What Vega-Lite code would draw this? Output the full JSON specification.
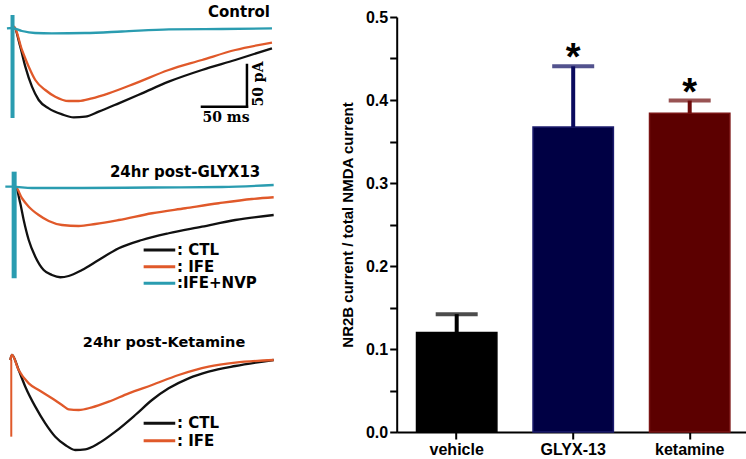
{
  "$schema": "https://vega.github.io/schema/vega-lite/v6.json",
  "padding": 0,
  "background": "white",
  "config": {"view": {"stroke": null}},
  "resolve": {"scale": {"color": "independent", "fill": "independent", "stroke": "independent"}},
  "datasets": {
    "traces": [
      {"p":1,"s":"CTL","t":0,"I":0},{"p":1,"s":"CTL","t":1.9,"I":2.8},{"p":1,"s":"CTL","t":9.2,"I":-21.2},{"p":1,"s":"CTL","t":14.8,"I":-45.2},{"p":1,"s":"CTL","t":22.2,"I":-69.2},{"p":1,"s":"CTL","t":29.7,"I":-85.2},{"p":1,"s":"CTL","t":40.8,"I":-95.2},{"p":1,"s":"CTL","t":55.6,"I":-102.4},{"p":1,"s":"CTL","t":68.6,"I":-106.0},{"p":1,"s":"CTL","t":81.4,"I":-105.2},{"p":1,"s":"CTL","t":96.3,"I":-99.2},{"p":1,"s":"CTL","t":118.6,"I":-89.2},{"p":1,"s":"CTL","t":144.4,"I":-77.2},{"p":1,"s":"CTL","t":174.1,"I":-63.2},{"p":1,"s":"CTL","t":211.1,"I":-49.2},{"p":1,"s":"CTL","t":248.1,"I":-37.2},{"p":1,"s":"CTL","t":288.9,"I":-23.2},
      {"p":1,"s":"IFE","t":0,"I":0},{"p":1,"s":"IFE","t":1.9,"I":2.8},{"p":1,"s":"IFE","t":11.1,"I":-25.2},{"p":1,"s":"IFE","t":18.6,"I":-45.2},{"p":1,"s":"IFE","t":25.9,"I":-61.2},{"p":1,"s":"IFE","t":37.0,"I":-73.2},{"p":1,"s":"IFE","t":48.1,"I":-81.2},{"p":1,"s":"IFE","t":63.0,"I":-86.4},{"p":1,"s":"IFE","t":74.1,"I":-86.4},{"p":1,"s":"IFE","t":88.9,"I":-83.2},{"p":1,"s":"IFE","t":107.4,"I":-77.2},{"p":1,"s":"IFE","t":137.0,"I":-65.2},{"p":1,"s":"IFE","t":174.1,"I":-49.2},{"p":1,"s":"IFE","t":211.1,"I":-37.2},{"p":1,"s":"IFE","t":248.1,"I":-25.2},{"p":1,"s":"IFE","t":288.9,"I":-16.4},
      {"p":1,"s":"IFE+NVP","t":-5.6,"I":0.8},{"p":1,"s":"IFE+NVP","t":0,"I":1.2},{"p":1,"s":"IFE+NVP","t":11.1,"I":-2.4},{"p":1,"s":"IFE+NVP","t":25.6,"I":-4.8},{"p":1,"s":"IFE+NVP","t":44.4,"I":-5.2},{"p":1,"s":"IFE+NVP","t":81.1,"I":-4.8},{"p":1,"s":"IFE+NVP","t":122.2,"I":-3.0},{"p":1,"s":"IFE+NVP","t":174.4,"I":-0.4},{"p":1,"s":"IFE+NVP","t":233.3,"I":0},{"p":1,"s":"IFE+NVP","t":288.9,"I":0.8},
      {"p":2,"s":"CTL","t":0,"I":0},{"p":2,"s":"CTL","t":3.7,"I":0},{"p":2,"s":"CTL","t":9.2,"I":-19.9},{"p":2,"s":"CTL","t":13.0,"I":-40.0},{"p":2,"s":"CTL","t":18.6,"I":-64.0},{"p":2,"s":"CTL","t":25.9,"I":-84.0},{"p":2,"s":"CTL","t":35.2,"I":-100.0},{"p":2,"s":"CTL","t":44.4,"I":-106.0},{"p":2,"s":"CTL","t":53.7,"I":-108.7},{"p":2,"s":"CTL","t":63.0,"I":-107.2},{"p":2,"s":"CTL","t":77.8,"I":-100.0},{"p":2,"s":"CTL","t":96.3,"I":-88.0},{"p":2,"s":"CTL","t":118.6,"I":-73.9},{"p":2,"s":"CTL","t":144.4,"I":-64.0},{"p":2,"s":"CTL","t":174.1,"I":-55.9},{"p":2,"s":"CTL","t":211.1,"I":-48.0},{"p":2,"s":"CTL","t":248.1,"I":-40.0},{"p":2,"s":"CTL","t":290.8,"I":-34.0},
      {"p":2,"s":"IFE","t":0,"I":0},{"p":2,"s":"IFE","t":3.7,"I":0},{"p":2,"s":"IFE","t":11.1,"I":-13.9},{"p":2,"s":"IFE","t":18.6,"I":-24.0},{"p":2,"s":"IFE","t":29.7,"I":-34.0},{"p":2,"s":"IFE","t":40.8,"I":-41.2},{"p":2,"s":"IFE","t":55.6,"I":-46.0},{"p":2,"s":"IFE","t":74.1,"I":-47.2},{"p":2,"s":"IFE","t":92.6,"I":-44.8},{"p":2,"s":"IFE","t":118.6,"I":-40.0},{"p":2,"s":"IFE","t":155.6,"I":-31.9},{"p":2,"s":"IFE","t":192.6,"I":-25.9},{"p":2,"s":"IFE","t":229.7,"I":-19.9},{"p":2,"s":"IFE","t":266.7,"I":-14.8},{"p":2,"s":"IFE","t":290.8,"I":-12.7},
      {"p":2,"s":"IFE+NVP","t":-7.4,"I":0},{"p":2,"s":"IFE+NVP","t":0,"I":0},{"p":2,"s":"IFE+NVP","t":22.2,"I":-1.6},{"p":2,"s":"IFE+NVP","t":77.8,"I":-1.6},{"p":2,"s":"IFE+NVP","t":155.6,"I":-1.0},{"p":2,"s":"IFE+NVP","t":233.3,"I":-0.4},{"p":2,"s":"IFE+NVP","t":290.8,"I":2.0},
      {"p":3,"s":"CTL","t":-1.9,"I":0},{"p":3,"s":"CTL","t":0,"I":6.0},{"p":3,"s":"CTL","t":7.4,"I":-12.0},{"p":3,"s":"CTL","t":14.8,"I":-32.0},{"p":3,"s":"CTL","t":25.9,"I":-56.0},{"p":3,"s":"CTL","t":37.0,"I":-76.0},{"p":3,"s":"CTL","t":48.1,"I":-92.0},{"p":3,"s":"CTL","t":59.2,"I":-102.0},{"p":3,"s":"CTL","t":70.3,"I":-108.0},{"p":3,"s":"CTL","t":81.4,"I":-107.2},{"p":3,"s":"CTL","t":96.3,"I":-100.0},{"p":3,"s":"CTL","t":114.8,"I":-86.0},{"p":3,"s":"CTL","t":137.0,"I":-66.0},{"p":3,"s":"CTL","t":155.6,"I":-48.0},{"p":3,"s":"CTL","t":174.1,"I":-34.0},{"p":3,"s":"CTL","t":196.3,"I":-22.0},{"p":3,"s":"CTL","t":218.5,"I":-14.0},{"p":3,"s":"CTL","t":248.1,"I":-7.2},{"p":3,"s":"CTL","t":290.8,"I":0},
      {"p":3,"s":"IFE","t":-1.9,"I":0},{"p":3,"s":"IFE","t":0,"I":6.0},{"p":3,"s":"IFE","t":7.4,"I":-12.0},{"p":3,"s":"IFE","t":18.6,"I":-28.0},{"p":3,"s":"IFE","t":29.7,"I":-36.0},{"p":3,"s":"IFE","t":44.4,"I":-46.0},{"p":3,"s":"IFE","t":55.6,"I":-54.0},{"p":3,"s":"IFE","t":63.0,"I":-59.2},{"p":3,"s":"IFE","t":74.1,"I":-60.0},{"p":3,"s":"IFE","t":88.9,"I":-56.8},{"p":3,"s":"IFE","t":107.4,"I":-50.0},{"p":3,"s":"IFE","t":129.7,"I":-40.0},{"p":3,"s":"IFE","t":155.6,"I":-30.0},{"p":3,"s":"IFE","t":185.2,"I":-18.0},{"p":3,"s":"IFE","t":218.5,"I":-8.0},{"p":3,"s":"IFE","t":248.1,"I":-3.2},{"p":3,"s":"IFE","t":290.8,"I":0}
    ],
    "segs": [
      {"p":1,"k":"spike","s":"IFE+NVP","t":0.6,"I":16.8,"t2":0.6,"I2":-106.8},
      {"p":2,"k":"spike","s":"IFE+NVP","t":2.4,"I":18.0,"t2":2.4,"I2":-109.9},
      {"p":3,"k":"spike","s":"IFE","t":-0.8,"I":0,"t2":-0.8,"I2":-92.0},
      {"p":1,"k":"bar","s":"CTL","t":211.1,"I":-93.2,"t2":261.1,"I2":-93.2},
      {"p":1,"k":"bar","s":"CTL","t":261.1,"I":-93.2,"t2":261.1,"I2":-43.2},
      {"p":2,"k":"leg","s":"CTL","t":146.3,"I":-76.0,"t2":181.4,"I2":-76.0},
      {"p":2,"k":"leg","s":"IFE","t":146.3,"I":-96.0,"t2":181.4,"I2":-96.0},
      {"p":2,"k":"leg","s":"IFE+NVP","t":146.3,"I":-115.9,"t2":181.4,"I2":-115.9},
      {"p":3,"k":"leg","s":"CTL","t":146.3,"I":-76.0,"t2":181.4,"I2":-76.0},
      {"p":3,"k":"leg","s":"IFE","t":146.3,"I":-96.8,"t2":181.4,"I2":-96.8}
    ],
    "texts": [
      {"p":1,"k":"title","t":286.7,"I":20.4,"label":"Control"},
      {"p":2,"k":"title","t":275.9,"I":18.0,"label":"24hr post-GLYX13"},
      {"p":3,"k":"title","t":259.2,"I":20.0,"label":"24hr post-Ketamine"},
      {"p":2,"k":"leg","t":183.3,"I":-76.0,"label":": CTL"},
      {"p":2,"k":"leg","t":183.3,"I":-96.0,"label":": IFE"},
      {"p":2,"k":"leg","t":183.3,"I":-115.9,"label":":IFE+NVP"},
      {"p":3,"k":"leg","t":183.3,"I":-76.0,"label":": CTL"},
      {"p":3,"k":"leg","t":183.3,"I":-96.8,"label":": IFE"},
      {"p":1,"k":"ms","t":237.8,"I":-106.8,"label":"50 ms"},
      {"p":1,"k":"pA","t":275.0,"I":-66.0,"label":"50 pA"}
    ],
    "bars": [
      {"group":"vehicle","mean":0.12,"upper":0.142,"sig":""},
      {"group":"GLYX-13","mean":0.3675,"upper":0.4406,"sig":"*"},
      {"group":"ketamine","mean":0.384,"upper":0.3993,"sig":"*"}
    ]
  },
  "spacing": 52.7,
  "hconcat": [
    {
      "bounds": "flush",
      "spacing": 0,
      "vconcat": [
        {
          "width": 285, "height": 150,
          "encoding": {
            "x": {"field":"t","type":"quantitative","scale":{"domain":[-11.1,305.6],"nice":false,"zero":false},"axis":null},
            "y": {"field":"I","type":"quantitative","scale":{"domain":[-145.2,34.8],"nice":false,"zero":false},"axis":null}
          },
          "layer": [
            {"data":{"name":"traces"},"transform":[{"filter":"datum.p == 1"}],"mark":{"type":"line","strokeWidth":2.3,"interpolate":"monotone"},"encoding":{"color":{"field":"s","type":"nominal","scale":{"domain":["CTL","IFE","IFE+NVP"],"range":["#111111","#e0592a","#2a9cb0"]},"legend":null}}},
            {"data":{"name":"segs"},"transform":[{"filter":"datum.p == 1 && datum.k == 'spike'"}],"mark":{"type":"rule","strokeWidth":4},"encoding":{"x2":{"field":"t2"},"y2":{"field":"I2"},"color":{"field":"s","type":"nominal","legend":null}}},
            {"data":{"name":"segs"},"transform":[{"filter":"datum.p == 1 && datum.k == 'bar'"}],"mark":{"type":"rule","strokeWidth":2.5,"color":"#000000","strokeCap":"square"},"encoding":{"x2":{"field":"t2"},"y2":{"field":"I2"}}},
            {"data":{"name":"texts"},"transform":[{"filter":"datum.p == 1 && datum.k == 'title'"}],"mark":{"type":"text","align":"right","baseline":"middle","font":"DejaVu Sans","fontWeight":"bold","fontSize":15,"color":"#000000"},"encoding":{"text":{"field":"label"}}},
            {"data":{"name":"texts"},"transform":[{"filter":"datum.p == 1 && datum.k == 'ms'"}],"mark":{"type":"text","align":"center","baseline":"middle","font":"DejaVu Serif","fontWeight":"bold","fontSize":14,"color":"#000000"},"encoding":{"text":{"field":"label"}}},
            {"data":{"name":"texts"},"transform":[{"filter":"datum.p == 1 && datum.k == 'pA'"}],"mark":{"type":"text","align":"center","baseline":"middle","angle":270,"font":"DejaVu Serif","fontWeight":"bold","fontSize":14,"color":"#000000"},"encoding":{"text":{"field":"label"}}}
          ]
        },
        {
          "width": 285, "height": 160,
          "encoding": {
            "x": {"field":"t","type":"quantitative","scale":{"domain":[-11.1,305.6],"nice":false,"zero":false},"axis":null},
            "y": {"field":"I","type":"quantitative","scale":{"domain":[-148.0,44.0],"nice":false,"zero":false},"axis":null}
          },
          "layer": [
            {"data":{"name":"traces"},"transform":[{"filter":"datum.p == 2"}],"mark":{"type":"line","strokeWidth":2.3,"interpolate":"monotone"},"encoding":{"color":{"field":"s","type":"nominal","scale":{"domain":["CTL","IFE","IFE+NVP"],"range":["#111111","#e0592a","#2a9cb0"]},"legend":null}}},
            {"data":{"name":"segs"},"transform":[{"filter":"datum.p == 2 && datum.k == 'spike'"}],"mark":{"type":"rule","strokeWidth":5},"encoding":{"x2":{"field":"t2"},"y2":{"field":"I2"},"color":{"field":"s","type":"nominal","legend":null}}},
            {"data":{"name":"segs"},"transform":[{"filter":"datum.p == 2 && datum.k == 'leg'"}],"mark":{"type":"rule","strokeWidth":3},"encoding":{"x2":{"field":"t2"},"y2":{"field":"I2"},"color":{"field":"s","type":"nominal","legend":null}}},
            {"data":{"name":"texts"},"transform":[{"filter":"datum.p == 2 && datum.k == 'title'"}],"mark":{"type":"text","align":"right","baseline":"middle","font":"DejaVu Sans","fontWeight":"bold","fontSize":15,"color":"#000000"},"encoding":{"text":{"field":"label"}}},
            {"data":{"name":"texts"},"transform":[{"filter":"datum.p == 2 && datum.k == 'leg'"}],"mark":{"type":"text","align":"left","baseline":"middle","font":"DejaVu Sans","fontWeight":"bold","fontSize":15,"color":"#000000"},"encoding":{"text":{"field":"label"}}}
          ]
        },
        {
          "width": 285, "height": 149,
          "encoding": {
            "x": {"field":"t","type":"quantitative","scale":{"domain":[-11.1,305.6],"nice":false,"zero":false},"axis":null},
            "y": {"field":"I","type":"quantitative","scale":{"domain":[-118.8,60.0],"nice":false,"zero":false},"axis":null}
          },
          "layer": [
            {"data":{"name":"segs"},"transform":[{"filter":"datum.p == 3 && datum.k == 'spike'"}],"mark":{"type":"rule","strokeWidth":2},"encoding":{"x2":{"field":"t2"},"y2":{"field":"I2"},"color":{"field":"s","type":"nominal","scale":{"domain":["CTL","IFE","IFE+NVP"],"range":["#111111","#e0592a","#2a9cb0"]},"legend":null}}},
            {"data":{"name":"traces"},"transform":[{"filter":"datum.p == 3"}],"mark":{"type":"line","strokeWidth":2.3,"interpolate":"monotone"},"encoding":{"color":{"field":"s","type":"nominal","legend":null}}},
            {"data":{"name":"segs"},"transform":[{"filter":"datum.p == 3 && datum.k == 'leg'"}],"mark":{"type":"rule","strokeWidth":3},"encoding":{"x2":{"field":"t2"},"y2":{"field":"I2"},"color":{"field":"s","type":"nominal","legend":null}}},
            {"data":{"name":"texts"},"transform":[{"filter":"datum.p == 3 && datum.k == 'title'"}],"mark":{"type":"text","align":"right","baseline":"middle","font":"DejaVu Sans","fontWeight":"bold","fontSize":14.5,"color":"#000000"},"encoding":{"text":{"field":"label"}}},
            {"data":{"name":"texts"},"transform":[{"filter":"datum.p == 3 && datum.k == 'leg'"}],"mark":{"type":"text","align":"left","baseline":"middle","font":"DejaVu Sans","fontWeight":"bold","fontSize":15,"color":"#000000"},"encoding":{"text":{"field":"label"}}}
          ]
        }
      ]
    },
    {
      "bounds": "flush",
      "spacing": 0,
      "vconcat": [
        {"width": 353, "height": 16.7, "data": {"values": [{"a": 1}]}, "mark": {"type": "point", "opacity": 0}},
        {
          "width": 353, "height": 415,
          "data": {"name": "bars"},
          "encoding": {
            "x": {"field":"group","type":"nominal","sort":["vehicle","GLYX-13","ketamine"],"scale":{"paddingInner":0.31,"paddingOuter":0.17},
                  "axis":{"title":null,"labelAngle":0,"labelFont":"Liberation Sans","labelFontSize":16,"labelFontWeight":"bold","labelColor":"#000000","labelPadding":2,"tickSize":7,"tickWidth":2,"tickColor":"#000000","domainColor":"#000000","domainWidth":2}}
          },
          "layer": [
            {"mark":{"type":"bar","strokeWidth":1.5},
             "encoding":{
               "y":{"field":"mean","type":"quantitative","scale":{"domain":[0,0.5],"nice":false},
                    "axis":{"title":"NR2B current / total NMDA current","titleFont":"Liberation Sans","titleFontSize":15,"titleFontWeight":"bold","titleColor":"#000000","titlePadding":10,
                            "values":[0,0.05,0.1,0.15,0.2,0.25,0.3,0.35,0.4,0.45,0.5],
                            "labelExpr":"round(datum.value*20) % 2 == 0 ? format(datum.value, '.1f') : ''",
                            "labelFont":"Liberation Sans","labelFontSize":16,"labelFontWeight":"bold","labelColor":"#000000","labelPadding":2,"labelFlush":false,"labelOverlap":false,
                            "tickSize":7,"tickWidth":2,"tickColor":"#000000","domainColor":"#000000","domainWidth":2,"grid":false}},
               "fill":{"field":"group","type":"nominal","scale":{"domain":["vehicle","GLYX-13","ketamine"],"range":["#000000","#000044","#5c0000"]},"legend":null},
               "stroke":{"field":"group","type":"nominal","scale":{"domain":["vehicle","GLYX-13","ketamine"],"range":["#000000","#1c1c6e","#7a1414"]},"legend":null}
             }},
            {"mark":{"type":"rule","strokeWidth":4},
             "encoding":{"y":{"field":"mean","type":"quantitative"},"y2":{"field":"upper"},
                         "color":{"field":"group","type":"nominal","scale":{"domain":["vehicle","GLYX-13","ketamine"],"range":["#000000","#0a0a5e","#6e0a0a"]},"legend":null}}},
            {"mark":{"type":"tick","thickness":4,"size":42},
             "encoding":{"y":{"field":"upper","type":"quantitative"},"color":{"field":"group","type":"nominal","legend":null}}},
            {"mark":{"type":"text","font":"Liberation Sans","fontWeight":"bold","fontSize":38,"baseline":"alphabetic","dy":4,"color":"#000000"},
             "encoding":{"y":{"field":"upper","type":"quantitative"},"text":{"field":"sig"}}}
          ]
        }
      ]
    }
  ]
}
